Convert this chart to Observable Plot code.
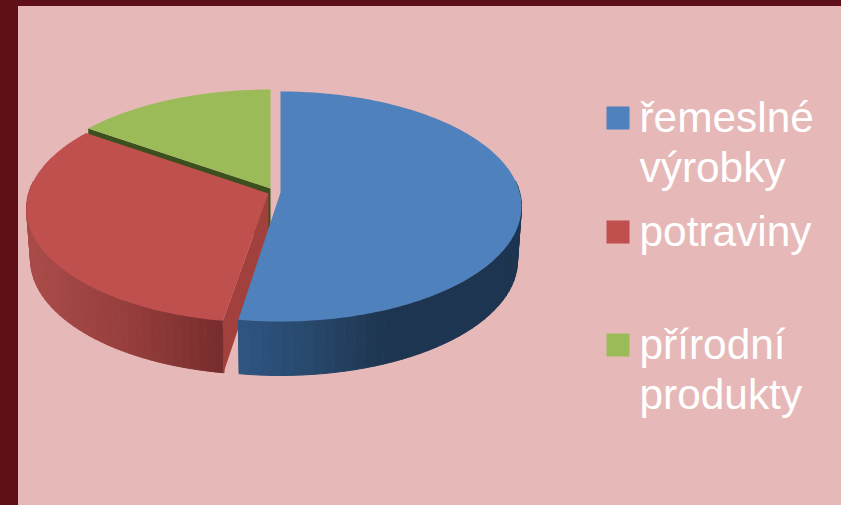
<!DOCTYPE html>
<html>
<head>
<meta charset="utf-8">
<script src="https://cdn.jsdelivr.net/npm/d3@7"></script>
<script src="https://cdn.jsdelivr.net/npm/@observablehq/plot@0.6"></script>
<style>
html,body{margin:0;padding:0;width:841px;height:505px;overflow:hidden;background:#5e0f17}
#panel{position:absolute;left:18px;top:6px;right:0;bottom:0;background:#e6b9b8}
#chart{position:absolute;left:0;top:0}
</style>
</head>
<body>
<div id="panel"></div>
<div id="chart"></div>
<script>
const categories = ["řemeslné\nvýrobky", "potraviny", "přírodní\nprodukty"];
const shares = [52.8, 33.7, 13.5];
const topColors = ["#4f81bd", "#c0504d", "#9bbb59"];
const wallStops = [[237, 300, 385], [30, 120, 222], null];
const wallColors = [["#2f5581", "#294a6f", "#1d3550"], ["#a94b49", "#983f3e", "#762c2c"], null];
const wallStart = [1.35, null, null];   // radians: part of the outer wall that can show
const wallEnd = [null, 4.95, null];
const cutColors = [null, "#a2403e", "#3b501d"];
const legendY = [117.5, 231.5, 344.5];

// Geometry of each exploded slice: rim ellipse, apex, and depth of the lower rim.
const geom = [
  {cx: 280, cy: 206, a: 241, b: 115, ax: 280, ay: 192, bcx: 280, bcy: 260, ba: 237, bb: 115, bay: 240},
  {cx: 264, cy: 208, a: 238, b: 114, ax: 268, ay: 193, bcx: 264, bcy: 259, ba: 234, bb: 115, bay: 238},
  {cx: 270, cy: 204, a: 243, b: 115, ax: 270, ay: 188, bcx: 270, bcy: 256, ba: 243, bb: 115, bay: 240}
];

const total = d3.sum(shares);
let acc = 0;
const spans = shares.map(s => { const r = [acc / total * 2 * Math.PI, (acc + s) / total * 2 * Math.PI]; acc += s; return r; });
const rim = (g, t) => [g.cx + g.a * Math.sin(t), g.cy - g.b * Math.cos(t)];
const low = (g, t) => [g.bcx + g.ba * Math.sin(t), g.bcy - g.bb * Math.cos(t)];
const steps = (t0, t1, n) => d3.range(n + 1).map(i => t0 + (t1 - t0) * i / n);

const polys = [];
const poly = (pts, color, line = false) => polys.push({pts, color, line});
function slice(i) {
  const g = geom[i], [t0, t1] = spans[i];
  const ts = steps(t0, t1, 220);
  if (wallStops[i]) {
    const shade = d3.scaleLinear().domain(wallStops[i]).range(wallColors[i]).interpolate(d3.interpolateRgb).clamp(true);
    const ws = steps(wallStart[i] ?? t0, wallEnd[i] ?? t1, 44);
    for (let k = 0; k < ws.length - 1; k++) {
      const p = rim(g, ws[k]), q = rim(g, ws[k + 1]), r = low(g, ws[k + 1]), s = low(g, ws[k]);
      poly([p, q, r, s], d3.color(shade((p[0] + q[0]) / 2)).formatHex(), true);
    }
  }
  if (cutColors[i]) {
    poly([rim(g, t0), low(g, t0), [g.ax, g.bay], [g.ax, g.ay]], cutColors[i]);
  }
  poly([[g.ax, g.ay], ...ts.map(t => rim(g, t))], topColors[i]);
}
slice(2); slice(1); slice(0);

const table = polys.flatMap((p, id) => p.pts.map(([x, y]) => ({id, x, y, color: p.color, line: p.line})));
const legend = categories.map((label, i) => ({label, color: topColors[i], y: legendY[i]}));

const chart = Plot.plot({
  width: 841, height: 505,
  margin: 0,
  style: {background: "transparent", fontFamily: "'Liberation Sans', Arial, sans-serif"},
  x: {axis: null, domain: [0, 841], range: [0, 841]},
  y: {axis: null, domain: [0, 505], range: [0, 505]},
  color: {type: "identity"},
  marks: [
    Plot.line(table, {x: "x", y: "y", z: "id", fill: "color", stroke: d => d.line ? d.color : "none", strokeWidth: 1, curve: "linear-closed"}),
    Plot.dot(legend, {x: () => 617.5, y: "y", symbol: "square", r: 13, fill: "color", stroke: "none"}),
    Plot.text(legend, {x: () => 639, y: "y", text: "label", textAnchor: "start", lineAnchor: "top", dy: -22, lineHeight: 1.19, fontSize: 42.4, fill: "#fff"})
  ]
});
document.getElementById("chart").appendChild(chart);
</script>
</body>
</html>
